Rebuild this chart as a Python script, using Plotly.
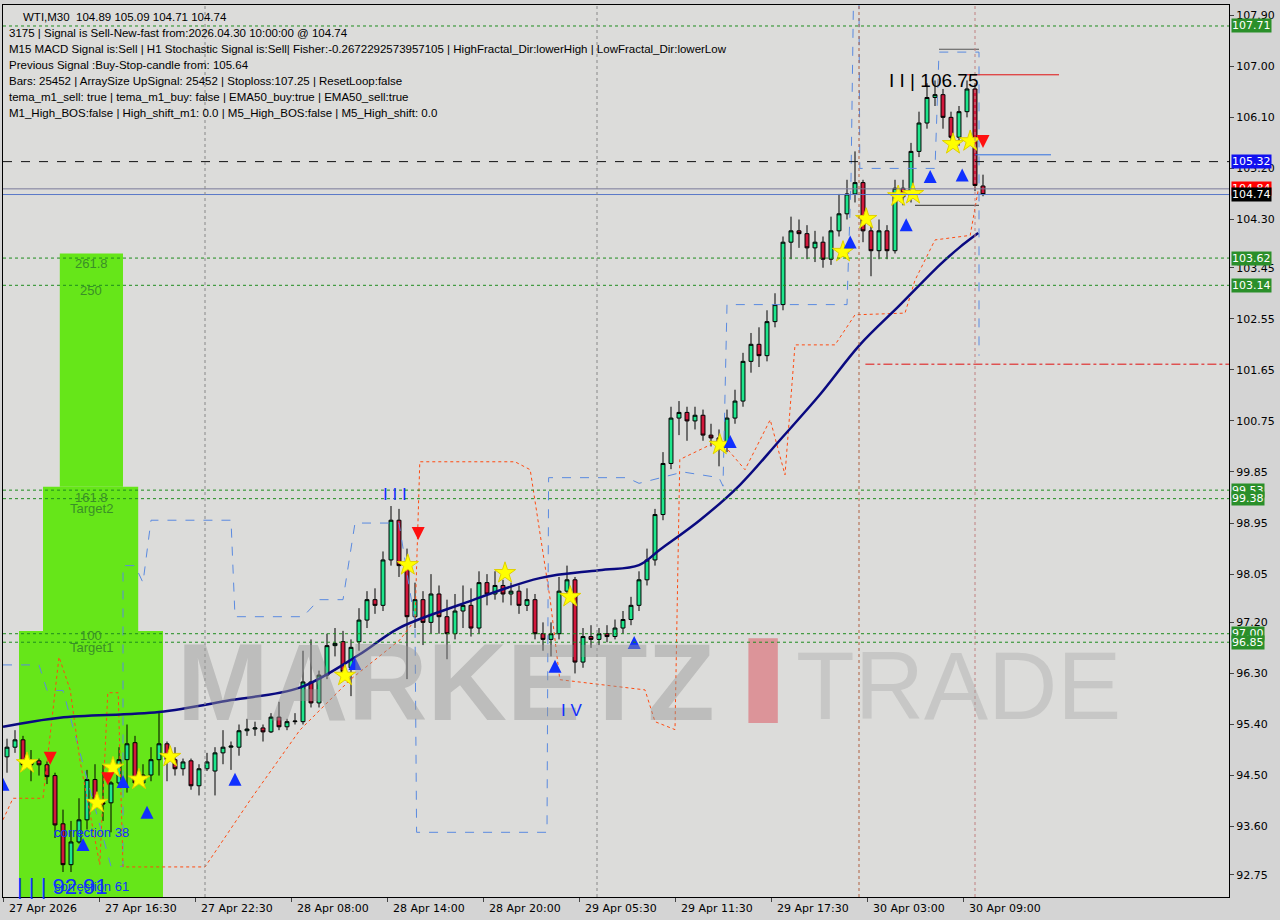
import plotly.graph_objects as go

opens = [94.83,95.00,95.13,94.69,94.76,94.69,94.50,93.65,92.93,93.33,93.72,94.43,94.02,94.02,94.37,94.78,95.08,94.37,94.51,94.78,
95.06,94.78,94.62,94.76,94.32,94.62,94.58,94.90,95.00,95.00,95.29,95.32,95.34,95.27,95.53,95.36,95.45,95.45,96.15,95.78,
96.27,96.79,96.86,96.40,96.86,97.24,97.60,97.50,98.30,99.00,98.20,97.30,97.60,97.20,97.70,97.30,97.00,97.40,97.50,97.10,
97.90,97.70,97.85,97.70,97.75,97.50,97.60,97.00,96.90,97.00,97.75,97.95,96.50,96.95,96.90,97.00,96.95,97.10,97.25,97.50,
97.95,98.30,99.10,100.00,100.80,100.90,100.75,100.85,100.50,100.45,100.30,100.80,101.10,101.80,102.10,101.90,102.50,102.80,103.90,104.10,
104.05,103.80,103.90,103.60,104.10,104.40,104.75,104.95,104.10,103.75,104.10,103.75,104.85,104.70,105.50,106.00,106.45,106.50,106.10,105.75,
106.20,106.60,104.89]
closes = [95.00,95.13,94.69,94.76,94.69,94.48,93.63,92.93,93.33,93.72,94.43,94.02,94.00,94.37,94.78,95.06,94.37,94.51,94.78,95.06,
94.78,94.62,94.74,94.32,94.62,94.74,94.90,95.00,95.02,95.29,95.32,95.34,95.27,95.53,95.36,95.45,95.46,96.15,95.78,96.27,
96.79,96.83,96.33,96.76,97.24,97.60,97.50,98.30,99.00,98.20,97.30,97.60,97.20,97.70,97.30,97.00,97.40,97.50,97.10,97.90,
97.70,97.85,97.70,97.75,97.50,97.60,97.00,96.90,97.00,97.75,97.95,96.50,96.95,96.90,97.00,96.95,97.10,97.25,97.50,97.95,
98.30,99.10,100.00,100.80,100.90,100.75,100.85,100.50,100.45,100.30,100.80,101.10,101.80,102.10,101.90,102.50,102.80,103.90,104.10,104.05,
103.80,103.90,103.60,104.10,104.40,104.75,104.95,104.10,103.75,104.10,103.75,104.85,104.70,105.50,106.00,106.45,106.50,106.10,105.75,106.20,
106.60,104.90,104.74]
highs = [95.15,95.30,95.20,94.95,94.80,94.75,94.55,93.90,93.70,94.10,94.60,94.70,94.70,94.40,95.00,95.40,95.20,94.70,95.00,95.60,
95.10,95.00,94.80,94.80,94.70,94.90,95.00,95.30,95.10,95.40,95.50,95.45,95.40,95.60,95.80,95.50,95.60,96.70,96.90,96.35,
97.00,97.10,97.05,96.90,97.45,97.75,97.80,98.45,99.25,99.20,98.50,97.90,97.75,98.05,97.85,97.60,97.70,97.85,97.80,98.10,
98.05,98.10,97.95,97.90,97.85,97.80,97.70,97.20,97.20,98.00,98.20,98.00,97.10,97.15,97.10,97.15,97.25,97.40,97.65,98.10,
98.50,99.20,100.20,101.00,101.10,101.00,101.00,100.95,100.70,100.60,100.95,101.30,101.95,102.30,102.40,102.70,103.00,104.00,104.35,104.30,
104.20,104.10,104.00,104.35,104.75,105.00,105.50,105.00,104.20,104.30,104.20,105.00,105.00,105.65,106.20,106.70,106.75,106.60,106.20,106.30,
106.75,106.70,105.09]
lows = [94.55,94.90,94.60,94.40,94.50,94.35,93.40,92.80,92.80,93.30,93.55,93.95,93.70,93.50,94.30,94.20,94.30,94.30,94.40,94.50,
94.40,94.50,94.50,94.25,94.15,94.58,94.15,94.70,94.60,94.85,95.20,95.20,95.10,95.25,95.30,95.30,95.40,95.40,95.70,95.70,
96.20,96.60,96.30,95.90,96.70,97.10,97.35,97.40,98.20,98.00,96.20,97.10,96.80,97.00,97.00,96.55,96.90,97.10,96.95,97.00,
97.50,97.60,97.55,97.50,97.35,97.40,96.90,96.70,96.60,96.90,97.60,96.30,96.40,96.75,96.80,96.85,96.90,97.00,97.15,97.40,
97.85,98.20,99.00,99.90,100.50,100.40,100.60,100.40,100.30,99.95,100.20,100.70,101.00,101.60,101.70,101.80,102.40,102.70,103.60,103.80,
103.60,103.55,103.45,103.50,104.00,104.30,104.60,103.90,103.30,103.60,103.60,103.70,104.55,104.60,105.40,105.90,106.30,105.90,105.60,105.60,
106.10,104.80,104.71]

ema_idx = [-0.5,6.6,19,28,36.6,44,49,56.6,66.6,74,79,81.6,86.6,91.6,96.6,101.6,106.6,111.6,116.6,119,121.4]
ema_val = [95.36,95.52,95.62,95.83,96.05,96.63,97.10,97.51,97.98,98.12,98.21,98.48,99.0,99.62,100.41,101.21,102.09,102.79,103.5,103.8,104.06]

lower_idx = [-0.5,0.75,4.5,6.5,7.9,9.1,11.6,12.6,13.9,14.5,24.75,30.4,36.6,42.9,49.1,51,51.6,63.5,65.4,67.9,69.1,79.75,81,83.5,84.1,89.1,92.25,95.4,97.25,98.5,103.5,106,112.25,113.5,116,120.4,121.4]
lower_val = [93.72,94.1,94.1,96.59,96.01,94.78,92.93,95.96,95.96,92.89,92.89,94.07,95.3,96.19,96.89,97.24,100.03,100.03,99.89,97.6,96.19,96.01,95.45,95.31,100.07,100.41,99.89,100.77,99.8,102.09,102.09,102.62,102.65,103.23,103.94,104.02,104.82]

upper_idx = [-0.5,4,5,7,13,14.5,14.5,16,17,18,28,28.5,37,39,42,43.5,49,51,51.2,67.5,67.7,77.5,79,84.5,89,89.5,90,105,105.5,105.8,106.5,106.6,116,116.5,121.5,121.5]
upper_val = [96.45,96.45,96.0,96.0,92.9,92.9,98.2,98.2,97.9,99.0,99.0,97.3,97.3,97.6,97.6,98.95,98.95,97.2,93.5,93.5,99.75,99.75,99.65,99.85,99.75,99.6,102.8,102.8,105.0,108.1,108.1,105.2,105.2,107.25,107.25,101.9]

star_idx = [2.5,11.25,13.25,16.5,20.4,42.25,50.1,62.25,70.4,89.1,104.5,107.4,111.4,113.25,118.25,120.4]
star_val = [94.72,94.02,94.64,94.43,94.83,96.26,98.21,98.07,97.65,100.33,103.73,104.31,104.71,104.75,105.63,105.68]
up_idx = [-0.5,9.5,14.5,17.5,28.5,43.5,68.5,78.4,90.4,105.4,112.4,115.4,119.4]
up_val = [94.46,93.4,94.51,93.97,94.55,96.59,96.54,96.96,100.5,104.02,104.32,105.17,105.2]
dn_idx = [5.4,12.6,51.4,122]
dn_val = [94.69,94.33,98.65,105.56]

green_levels = [107.71,103.62,103.14,99.53,99.38,97.00,96.85]
tick_vals = [107.90,107.00,106.10,105.20,104.30,103.45,102.55,101.65,100.75,99.85,98.95,98.05,97.20,96.30,95.40,94.50,93.60,92.75]
time_labels = ["27 Apr 2026","27 Apr 16:30","27 Apr 22:30","28 Apr 08:00","28 Apr 14:00","28 Apr 20:00",
               "29 Apr 05:30","29 Apr 11:30","29 Apr 17:30","30 Apr 03:00","30 Apr 09:00"]
time_idx = [-0.5,11.5,23.5,35.5,47.5,59.5,71.5,83.5,95.5,107.5,119.5]

fig = go.Figure()
X0, X1, Y0, Y1 = -0.5, 152.75, 92.36, 108.08

for (a, b, lo, hi) in [(1.5, 19.5, Y0, 97.05), (4.5, 16.4, 97.05, 99.59), (6.6, 14.5, 99.59, 103.7)]:
    fig.add_shape(type="rect", x0=a, x1=b, y0=lo, y1=hi, fillcolor="#66e619", line_width=0, layer="below")

# watermark
fig.add_annotation(x=0.14, y=0.17, xref="paper", yref="paper", text="<b>MARKETZ</b>", showarrow=False, xanchor="left",
                   font=dict(size=110, color="rgba(150,150,150,0.45)", family="Liberation Sans"))
fig.add_shape(type="rect", xref="paper", yref="paper", x0=0.608, x1=0.632, y0=0.195, y1=0.29,
              fillcolor="rgba(220,90,100,0.55)", line_width=0)
fig.add_annotation(x=0.645, y=0.175, xref="paper", yref="paper", text="TRADE", showarrow=False, xanchor="left",
                   font=dict(size=96, color="rgba(160,160,160,0.35)", family="Liberation Sans"))

for v in green_levels:
    fig.add_hline(y=v, line=dict(color="#1e8c1e", width=1, dash="dot"))
fig.add_hline(y=105.32, line=dict(color="#111111", width=1, dash="dash"))
fig.add_hline(y=104.84, line=dict(color="#7a7a9a", width=1))
fig.add_hline(y=104.74, line=dict(color="#5a78c8", width=1))
fig.add_shape(type="line", x0=107.3, x1=X1, y0=101.75, y1=101.75, line=dict(color="#e01010", width=1, dash="dashdot"))
fig.add_shape(type="line", x0=120.0, x1=131.5, y0=106.85, y1=106.85, line=dict(color="#e01010", width=1))
fig.add_shape(type="line", x0=121.0, x1=130.5, y0=105.44, y1=105.44, line=dict(color="#3070e0", width=1))
fig.add_shape(type="line", x0=116.5, x1=121.5, y0=107.30, y1=107.30, line=dict(color="#555", width=1))
fig.add_shape(type="line", x0=113.5, x1=121.5, y0=104.55, y1=104.55, line=dict(color="#333", width=1))
for vx, c in [(24.75, "#888"), (73.75, "#888"), (106.5, "#b06040"), (121.0, "#c08080")]:
    fig.add_vline(x=vx, line=dict(color=c, width=1, dash="dot"))

fig.add_trace(go.Scatter(x=upper_idx, y=upper_val, mode="lines", line=dict(color="#5a8ae0", width=1, dash="dash"), hoverinfo="skip"))
fig.add_trace(go.Scatter(x=lower_idx, y=lower_val, mode="lines", line=dict(color="#ff4a10", width=1, dash="dot"), hoverinfo="skip"))
fig.add_trace(go.Scatter(x=ema_idx, y=ema_val, mode="lines", line=dict(color="#0a0a80", width=2.5, shape="spline"), hoverinfo="skip"))

fig.add_trace(go.Candlestick(x=list(range(len(opens))), open=opens, high=highs, low=lows, close=closes,
                             increasing=dict(fillcolor="#1ee68c", line=dict(color="#000", width=1)),
                             decreasing=dict(fillcolor="#d2183c", line=dict(color="#000", width=1)),
                             whiskerwidth=0))

fig.add_trace(go.Scatter(x=star_idx, y=star_val, mode="markers", marker=dict(symbol="star", size=16, color="#ffff00", line=dict(color="#e0d000", width=1))))
fig.add_trace(go.Scatter(x=up_idx, y=up_val, mode="markers", marker=dict(symbol="arrow-up", size=13, color="#1030ff", line=dict(width=0))))
fig.add_trace(go.Scatter(x=dn_idx, y=dn_val, mode="markers", marker=dict(symbol="arrow-down", size=13, color="#ff1010", line=dict(width=0))))

for txt, yv in [("261.8", 103.52), ("250", 103.04), ("161.8", 99.40), ("Target2", 99.20), ("100", 96.96), ("Target1", 96.76)]:
    fig.add_annotation(x=10.5, y=yv, text=txt, showarrow=False, font=dict(size=13, color="#3a8f28", family="Liberation Sans"))
fig.add_annotation(x=10.5, y=93.50, text="correction 38", showarrow=False, font=dict(size=13, color="#1030ff", family="Liberation Sans"))
fig.add_annotation(x=10.5, y=92.55, text="correction 61", showarrow=False, font=dict(size=13, color="#1030ff", family="Liberation Sans"))
fig.add_annotation(x=1, y=92.55, text="| | | 92.91", showarrow=False, xanchor="left", font=dict(size=22, color="#1030ff", family="Liberation Sans"))
fig.add_annotation(x=48.5, y=99.45, text="I I I", showarrow=False, font=dict(size=17, color="#1030ff", family="Liberation Sans"))
fig.add_annotation(x=70.5, y=95.65, text="I V", showarrow=False, font=dict(size=17, color="#1030ff", family="Liberation Sans"))
fig.add_annotation(x=110, y=106.75, text="I I | 106.75", showarrow=False, xanchor="left", font=dict(size=19, color="#000", family="Liberation Sans"))

info = ["WTI,M30  104.89 105.09 104.71 104.74",
        "3175 | Signal is Sell-New-fast from:2026.04.30 10:00:00 @ 104.74",
        "M15 MACD Signal is:Sell | H1 Stochastic Signal is:Sell| Fisher:-0.2672292573957105 | HighFractal_Dir:lowerHigh | LowFractal_Dir:lowerLow",
        "Previous Signal :Buy-Stop-candle from: 105.64",
        "Bars: 25452 | ArraySize UpSignal: 25452 | Stoploss:107.25 | ResetLoop:false",
        "tema_m1_sell: true | tema_m1_buy: false | EMA50_buy:true | EMA50_sell:true",
        "M1_High_BOS:false | High_shift_m1: 0.0 | M5_High_BOS:false | M5_High_shift: 0.0"]
for k, t in enumerate(info):
    fig.add_annotation(x=0.003 + (0.012 if k == 0 else 0), y=0.995 - k * 0.0178, xref="paper", yref="paper", text=t,
                       showarrow=False, xanchor="left", yanchor="top", font=dict(size=11.5, color="#000", family="Liberation Sans"))

for v, bg in [(107.71, "#2a8f2a"), (105.32, "#1010f0"), (104.84, "#ff0000"), (104.74, "#000000"),
              (103.62, "#2a8f2a"), (103.14, "#2a8f2a"), (99.53, "#2a8f2a"), (99.38, "#2a8f2a"),
              (97.00, "#2a8f2a"), (96.85, "#2a8f2a")]:
    fig.add_annotation(x=1.0, y=v, xref="paper", text=f"{v:.2f}", showarrow=False, xanchor="left",
                       bgcolor=bg, font=dict(size=11, color="#fff", family="DejaVu Sans"), borderpad=0, xshift=2)

for lab, xi in zip(time_labels, time_idx):
    fig.add_annotation(x=xi, y=0, yref="paper", text=lab, showarrow=False, xanchor="left", yanchor="top",
                       yshift=-3, xshift=4, font=dict(size=11, color="#000", family="DejaVu Sans"))

fig.update_layout(width=1280, height=920, margin=dict(l=3, r=51, t=5, b=23),
                  paper_bgcolor="#d4d4d4", plot_bgcolor="#dcdcda", showlegend=False,
                  xaxis=dict(range=[X0, X1], showgrid=False, zeroline=False, rangeslider=dict(visible=False),
                             tickvals=time_idx, ticktext=[""] * len(time_idx), ticks="outside", ticklen=4,
                             showline=True, linecolor="#000", mirror=True),
                  yaxis=dict(range=[Y0, Y1], side="right", showgrid=False, zeroline=False, tickvals=tick_vals,
                             ticktext=[f"{v:.2f}" for v in tick_vals], ticks="outside", ticklen=4,
                             tickfont=dict(size=11, color="#000", family="DejaVu Sans"),
                             showline=True, linecolor="#000", mirror=True))
fig.write_html("out.html", config={"displayModeBar": False}, post_script="document.body.style.margin='0';")
